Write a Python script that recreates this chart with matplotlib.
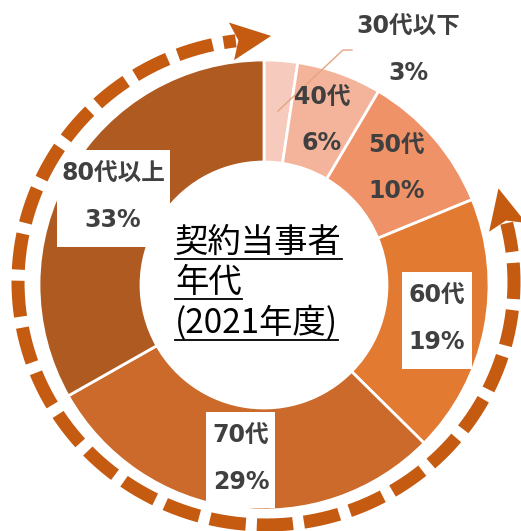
import numpy as np
import matplotlib.pyplot as plt
from matplotlib.patches import Rectangle, Polygon

plt.rcParams['font.family'] = ['Noto Sans CJK JP', 'DejaVu Sans']
plt.rcParams['lines.scale_dashes'] = False

# data (clockwise from 12 o'clock)
ages = ['30代以下', '40代', '50代', '60代', '70代', '80代以上']
shares = [2.4, 6.1, 10.3, 18.6, 29.4, 33.2]
share_labels = ['3%', '6%', '10%', '19%', '29%', '33%']
colors = ['#F6CABC', '#F3B49B', '#F09267', '#E27A32', '#CB6A2B', '#AF5A21']
title_lines = ['契約当事者', '年代', '(2021年度)']

# layout, in pixels (y down)
label_pos = [(408, 27, 73), (322, 98, 143), (397, 146, 191),
             (437, 296, 342), (241, 436, 482), (113, 174, 220)]
label_box = {3: (402, 272, 70, 97), 4: (206, 412, 69, 96), 5: (57, 150, 113, 97)}
arrow_c = '#C55A11'
txt_c = '#404040'
label_font = ['DejaVu Sans', 'Noto Sans CJK JP']

W, H = 521, 531
fig = plt.figure(figsize=(W / 100, H / 100), dpi=100)
ax = fig.add_axes([0, 0, 1, 1])

cx, cy = 264, 285
ax.pie(shares, colors=colors, startangle=-90, counterclock=True, radius=225,
       center=(cx, cy), wedgeprops=dict(width=102, edgecolor='white', linewidth=2))
ax.set_xlim(0, W)
ax.set_ylim(H, 0)
ax.set_aspect('equal')
ax.axis('off')

# dashed ring with arrow heads
rcx, rcy, rx, ry = 266, 282, 248, 243
t = np.radians(np.linspace(14, -263, 600))
ax.plot(rcx + rx * np.cos(t), rcy - ry * np.sin(t), color=arrow_c, lw=9.4,
        linestyle=(5, (26, 8)), dash_capstyle='butt', solid_capstyle='butt')


def head(t_deg, sign, length=40, half=19, notch=7):
    a = np.radians(t_deg)
    bx, by = rcx + rx * np.cos(a), rcy - ry * np.sin(a)
    dx, dy = -rx * np.sin(a) * sign, -ry * np.cos(a) * sign
    n = np.hypot(dx, dy)
    dx, dy = dx / n, dy / n
    px, py = -dy, dx
    pts = [(bx + length * dx, by + length * dy), (bx + half * px, by + half * py),
           (bx + notch * dx, by + notch * dy), (bx - half * px, by - half * py)]
    ax.add_patch(Polygon(pts, closed=True, color=arrow_c, lw=0))


head(98, -1)
head(13, 1)

# leader for the smallest slice
ax.plot([278, 343, 352], [111, 50, 50], color='#E3A583', lw=1)

for i, (age, lab) in enumerate(zip(ages, share_labels)):
    if i in label_box:
        x0, y0, w, h = label_box[i]
        ax.add_patch(Rectangle((x0, y0), w, h, facecolor='white', edgecolor='none'))
    x, y1, y2 = label_pos[i]
    ax.text(x, y1, age, ha='center', va='center', fontsize=17, fontweight='bold',
            color=txt_c, family=label_font)
    ax.text(x, y2, lab, ha='center', va='center', fontsize=17, fontweight='bold',
            color=txt_c, family=label_font)

# centre title, underlined
title_texts = []
for line, y in zip(title_lines, [242, 282, 323]):
    title_texts.append(ax.text(175, y, line, ha='left', va='center', fontsize=24, color='black'))
fig.canvas.draw()
r = fig.canvas.get_renderer()
inv = ax.transData.inverted()
for tt, y in zip(title_texts, [242, 282, 323]):
    bb = tt.get_window_extent(r)
    (x0, _), (x1, _) = inv.transform([[bb.x0, bb.y0], [bb.x1, bb.y1]])
    ax.plot([x0, x1], [y + 17, y + 17], color='black', lw=1.3)

fig.savefig('out.png', dpi=100)
